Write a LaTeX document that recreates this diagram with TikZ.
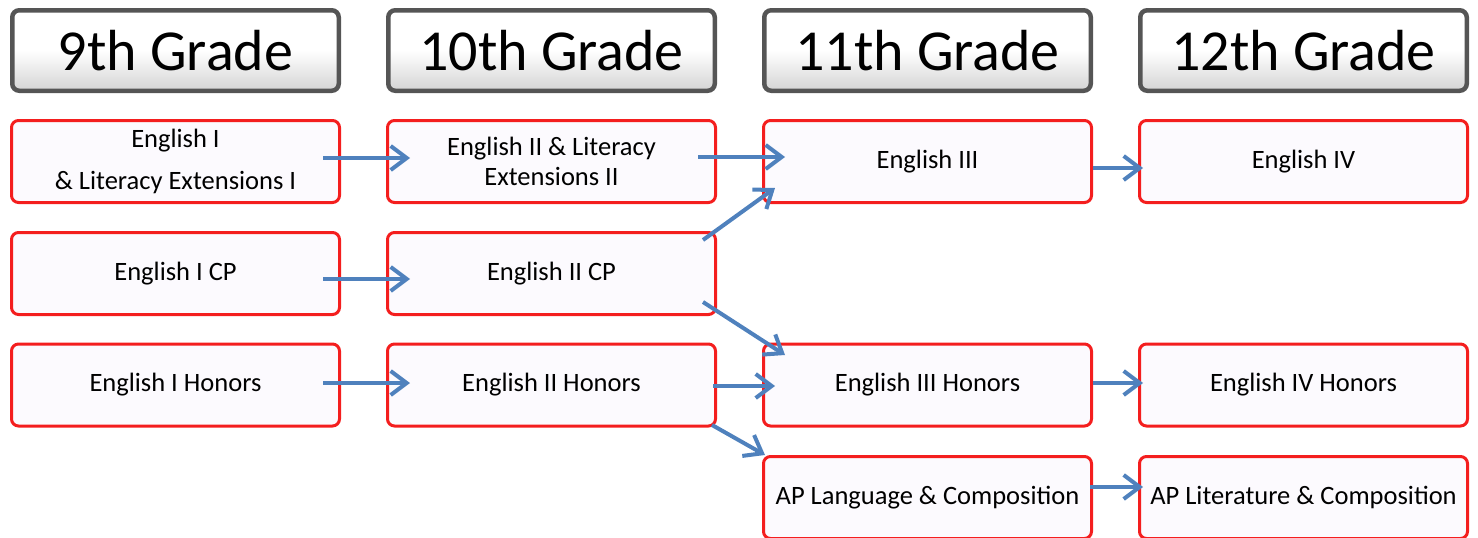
\documentclass[tikz,border=0pt]{standalone}
\usepackage{fontspec}
\setmainfont{Carlito}
\usetikzlibrary{arrows.meta}
\definecolor{arrblue}{HTML}{4F81BD}
\definecolor{boxred}{HTML}{F41E1E}
\definecolor{boxfill}{HTML}{FCFAFE}
\definecolor{hdrborder}{HTML}{555555}
\tikzset{
  hdr/.style={draw=hdrborder, line width=4.5pt, rounded corners=7pt,
    top color=white, bottom color=black!17, middle color=white,
    minimum width=326.5pt, minimum height=80.5pt, inner sep=0pt,
    font=\fontsize{58}{60}\selectfont},
  course/.style={draw=boxred, line width=3pt, rounded corners=7pt, fill=boxfill,
    minimum width=328pt, minimum height=82pt, inner sep=0pt, align=center,
    font=\fontsize{26.5}{30}\selectfont},
  arr/.style={draw=arrblue, line width=4pt,
    -{Straight Barb[length=16pt,width=24pt]}},
}
\begin{document}
\begin{tikzpicture}[x=1pt,y=-1pt]
\useasboundingbox (0,0) rectangle (1478,538);
% headers
\node[hdr] (g9)  at (175.5,50.5) {9th Grade};
\node[hdr] (g10) at (551.5,50.5) {10th Grade};
\node[hdr] (g11) at (927.5,50.5) {11th Grade};
\node[hdr] (g12) at (1303.5,50.5) {12th Grade};
% row 1
\node[course] (e1) at (175.5,161.5) {English I\\[12pt]\& Literacy Extensions I};
\node[course] (e2) at (551.5,161.5) {English II \& Literacy\\Extensions II};
\node[course] (e3) at (927.5,161.5) {English III};
\node[course] (e4) at (1303.5,161.5) {English IV};
% row 2
\node[course] (cp1) at (175.5,273.5) {English I CP};
\node[course] (cp2) at (551.5,273.5) {English II CP};
% row 3
\node[course] (h1) at (175.5,385) {English I Honors};
\node[course] (h2) at (551.5,385) {English II Honors};
\node[course] (h3) at (927.5,385) {English III Honors};
\node[course] (h4) at (1303.5,385) {English IV Honors};
% row 4
\node[course] (ap3) at (927.5,497.5) {AP Language \& Composition};
\node[course] (ap4) at (1303.5,497.5) {AP Literature \& Composition};
% arrows
\draw[arr] ([shift={(-18,-3.5)}]e1.east) -- ([shift={(24,-3.5)}]e2.west);
\draw[arr] ([shift={(-19,-4.5)}]e2.east) -- ([shift={(23,-4.5)}]e3.west);
\draw[arr] ([shift={(0,6.5)}]e3.east) -- ([shift={(5,6.5)}]e4.west);
\draw[arr] ([shift={(-18,5.5)}]cp1.east) -- ([shift={(24,5.5)}]cp2.west);
\draw[arr] ([shift={(-14,-33.5)}]cp2.east) -- ([shift={(13,26.5)}]e3.west);
\draw[arr] ([shift={(-14,28.5)}]cp2.east) -- ([shift={(23,-30)}]h3.west);
\draw[arr] ([shift={(-18,-2)}]h1.east) -- ([shift={(24,-2)}]h2.west);
\draw[arr] ([shift={(-4,1)}]h2.east) -- ([shift={(13,1)}]h3.west);
\draw[arr] ([shift={(0,-2)}]h3.east) -- ([shift={(5,-2)}]h4.west);
\draw[arr] ([shift={(-5,40)}]h2.east) -- ([shift={(3,-42.5)}]ap3.west);
\draw[arr] ([shift={(-3,-10.5)}]ap3.east) -- ([shift={(5,-10.5)}]ap4.west);
\end{tikzpicture}
\end{document}
